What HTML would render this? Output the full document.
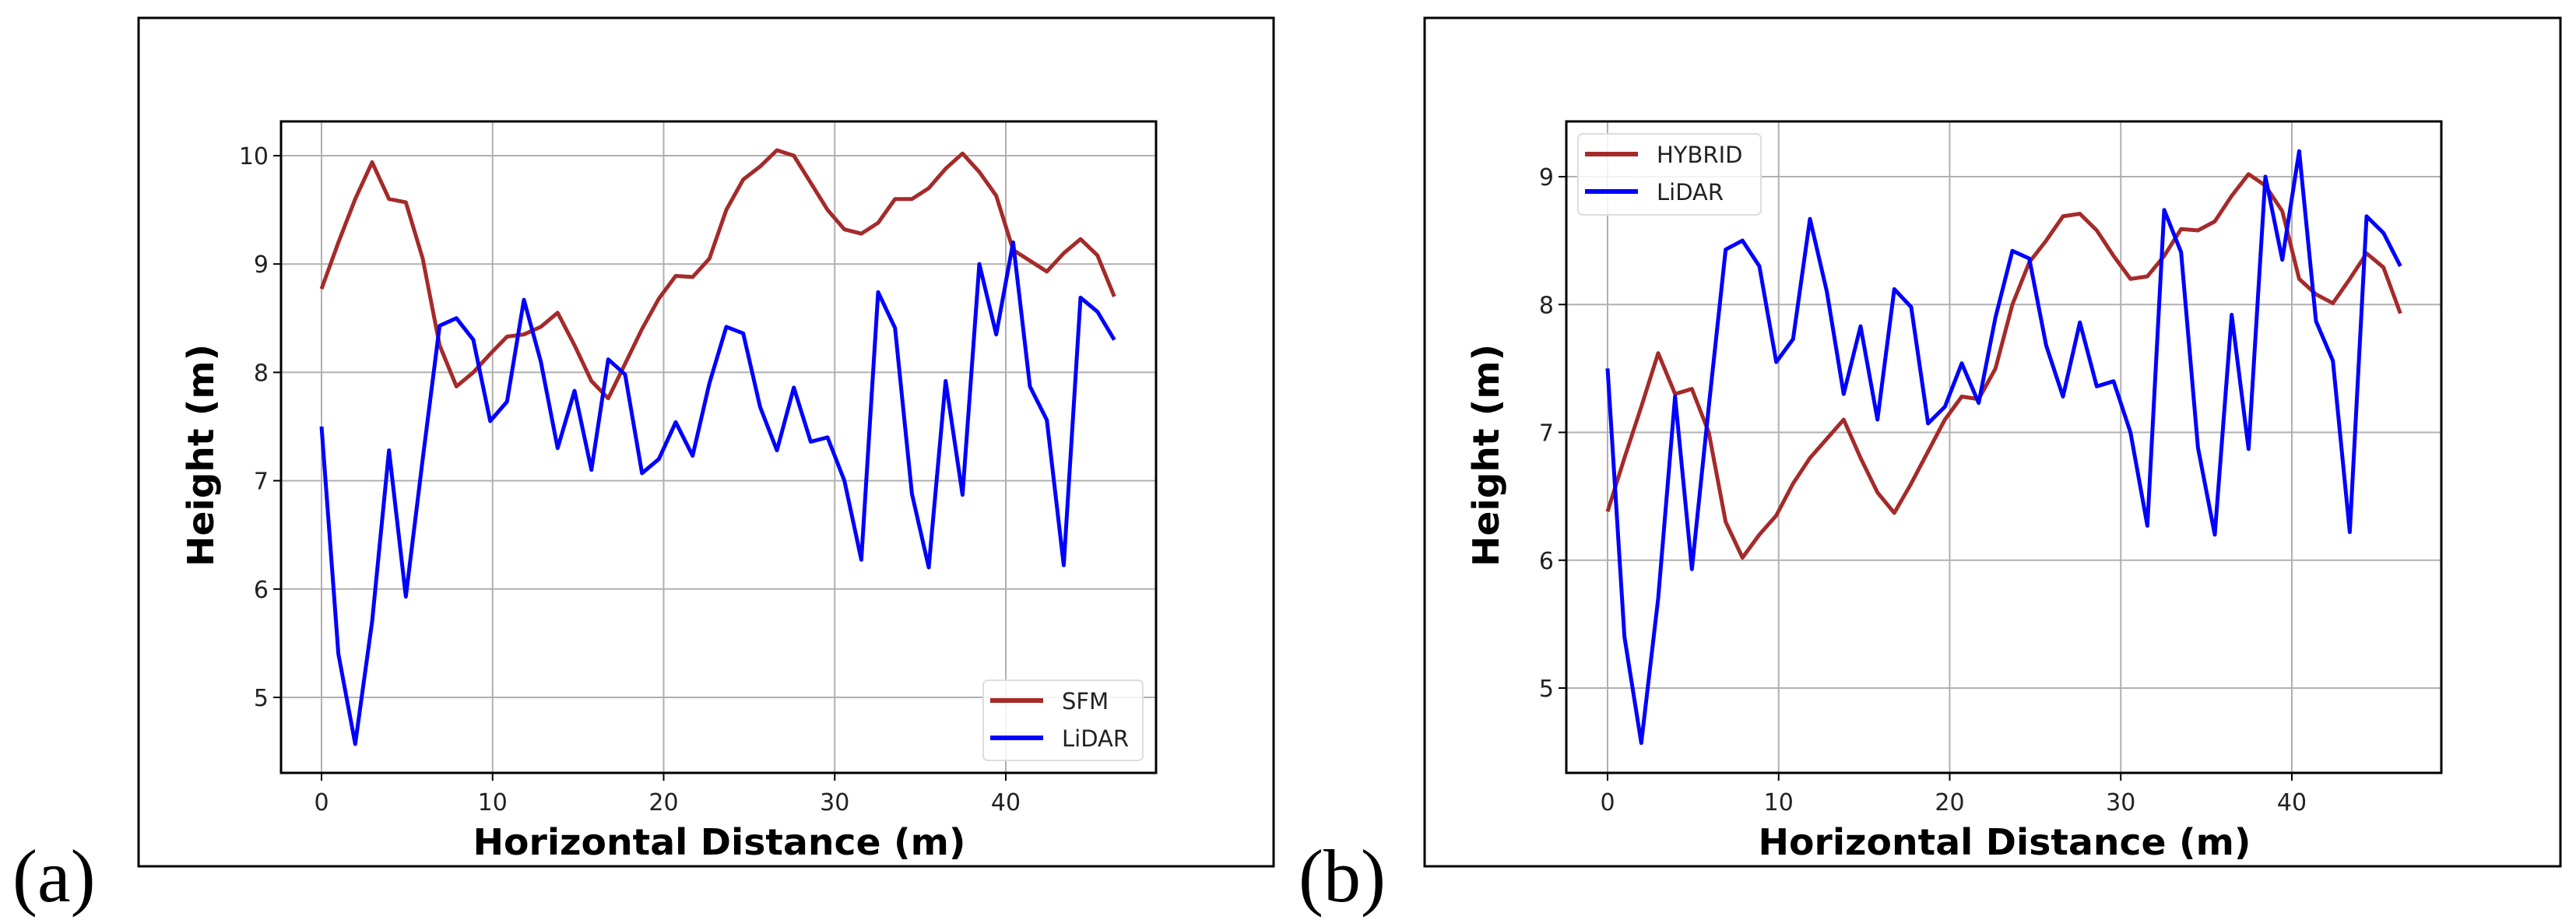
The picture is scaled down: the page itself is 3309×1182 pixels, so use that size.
<!DOCTYPE html>
<html><head><meta charset="utf-8"><style>
html,body{margin:0;padding:0;background:#fff;}
svg{display:block;}
</style></head><body>
<svg id="fig" xmlns="http://www.w3.org/2000/svg" width="3309" height="1182" viewBox="0 0 3309 1182"></svg>
<script>
const lidar = [7.5,5.4,4.57,5.7,7.28,5.93,7.2,8.43,8.5,8.3,7.55,7.73,8.67,8.1,7.3,7.83,7.1,8.12,7.98,7.07,7.2,7.54,7.23,7.9,8.42,8.36,7.68,7.28,7.86,7.36,7.4,7.0,6.27,8.74,8.41,6.88,6.2,7.92,6.87,9.0,8.35,9.2,7.87,7.56,6.22,8.69,8.56,8.3];
const sfm = [8.77,9.2,9.6,9.94,9.6,9.57,9.05,8.25,7.87,8.0,8.17,8.33,8.35,8.42,8.55,8.25,7.92,7.76,8.08,8.4,8.68,8.89,8.88,9.05,9.5,9.78,9.9,10.05,10.0,9.75,9.5,9.32,9.28,9.38,9.6,9.6,9.7,9.88,10.02,9.85,9.63,9.13,9.03,8.93,9.1,9.23,9.08,8.7];
const hybrid = [6.38,6.8,7.2,7.62,7.3,7.34,7.0,6.3,6.02,6.2,6.35,6.6,6.8,6.95,7.1,6.8,6.53,6.37,6.6,6.85,7.1,7.28,7.26,7.5,8.0,8.33,8.5,8.69,8.71,8.58,8.38,8.2,8.22,8.38,8.59,8.58,8.65,8.85,9.02,8.93,8.73,8.2,8.08,8.01,8.2,8.4,8.29,7.93];
const xStep = 0.986;
const xTicks = [0,10,20,30,40];
const yTicksA = [5,6,7,8,9,10];
const yTicksB = [5,6,7,8,9];

const NS='http://www.w3.org/2000/svg';
const svg=document.getElementById('fig');
function mk(tag,attrs,parent){const e=document.createElementNS(NS,tag);for(const k in attrs)e.setAttribute(k,attrs[k]);(parent||svg).appendChild(e);return e;}

function panel(cfg){
  const g=mk('g',{});
  
  
  const fr=mk('rect',{x:cfg.fx,y:23,width:cfg.fw,height:1090,fill:'none',stroke:'#000','stroke-width':3},g);
  
  
  const L=cfg.left,T=156,R=cfg.left+1124,B=993;
  const sx=v=>cfg.x0+v*21.975;
  const sy=v=>cfg.yRef-(v-cfg.yRefVal)*cfg.yUnit;
  xTicks.forEach(t=>{
    const l=mk('line',{x1:sx(t),x2:sx(t),y1:T,y2:B,stroke:'#b0b0b0','stroke-width':2},g);
    
    
    const tk=mk('line',{x1:sx(t),x2:sx(t),y1:B,y2:B+10,stroke:'#000','stroke-width':2},g);
    
    
    const tx=mk('text',{x:sx(t),y:1041,'text-anchor':'middle','font-family':'DejaVu Sans, Liberation Sans, sans-serif','font-size':30,fill:'#222'},g);
    tx.textContent=t;
    
    
  });
  cfg.yTicks.forEach(t=>{
    const l=mk('line',{x1:L,x2:R,y1:sy(t),y2:sy(t),stroke:'#b0b0b0','stroke-width':2},g);
    
    
    const tk=mk('line',{x1:L-10,x2:L,y1:sy(t),y2:sy(t),stroke:'#000','stroke-width':2},g);
    
    
    const tx=mk('text',{x:L-16,y:sy(t)+11,'text-anchor':'end','font-family':'DejaVu Sans, Liberation Sans, sans-serif','font-size':30,fill:'#222'},g);
    tx.textContent=t;
    
    
  });
  cfg.series.forEach(s=>{
    const pts=s.data.map((v,i)=>sx(i*xStep).toFixed(1)+','+sy(v).toFixed(1)).join(' ');
    const p=mk('polyline',{points:pts,fill:'none',stroke:s.color,'stroke-width':5,'stroke-linejoin':'round'},g);
    
    
  });
  const ax=mk('rect',{x:L,y:T,width:R-L,height:B-T,fill:'none',stroke:'#000','stroke-width':3},g);
  
  
  const lg=cfg.legend;
  const lr=mk('rect',{x:lg.x,y:lg.y,width:lg.w,height:lg.h,rx:6,fill:'rgba(255,255,255,0.85)',stroke:'#ddd','stroke-width':2},g);
  
  
  cfg.series.forEach((s,i)=>{
    const y=lg.y+26+i*48;
    const ll=mk('line',{x1:lg.x+9,x2:lg.x+77,y1:y,y2:y,stroke:s.color,'stroke-width':6},g);
    
    
    const lt=mk('text',{x:lg.x+101,y:y+11,'font-family':'DejaVu Sans, Liberation Sans, sans-serif','font-size':29,fill:'#222'},g);
    lt.textContent=s.label;
    
    
  });
  const xt=mk('text',{x:(L+R)/2+1,y:1098,'text-anchor':'middle','font-family':'DejaVu Sans, Liberation Sans, sans-serif','font-size':46,'font-weight':'bold',textLength:633,lengthAdjust:'spacingAndGlyphs',fill:'#000'},g);
  xt.textContent='Horizontal Distance (m)';
  
  
  const yx=cfg.ytx, yy=585;
  const yt=mk('text',{x:yx,y:yy,'text-anchor':'middle','font-family':'DejaVu Sans, Liberation Sans, sans-serif','font-size':46,'font-weight':'bold',textLength:286,lengthAdjust:'spacingAndGlyphs',transform:`rotate(-90 ${yx} ${yy})`,fill:'#000'},g);
  yt.textContent='Height (m)';
  
  
  const pl=mk('text',{x:cfg.fx-162,y:1158,'font-family':'Liberation Serif, serif','font-size':96,fill:'#000'},g);
  pl.textContent=cfg.label;
  
  
}

panel({name:'panel-a',fx:178,fw:1458,left:361,x0:413,yRef:896,yRefVal:5,yUnit:139.2,yTicks:yTicksA,ytx:274,label:'(a)',
  legend:{x:1263,y:874,w:205,h:103},
  series:[{name:'sfm',label:'SFM',color:'#a52a2a',data:sfm},{name:'lidar',label:'LiDAR',color:'#0000ff',data:lidar}]});
panel({name:'panel-b',fx:1830,fw:1459,left:2012,x0:2065,yRef:884,yRefVal:5,yUnit:164.25,yTicks:yTicksB,ytx:1925,label:'(b)',
  legend:{x:2027,y:172,w:235,h:104},
  series:[{name:'hybrid',label:'HYBRID',color:'#a52a2a',data:hybrid},{name:'lidar',label:'LiDAR',color:'#0000ff',data:lidar}]});
</script>
</body></html>
